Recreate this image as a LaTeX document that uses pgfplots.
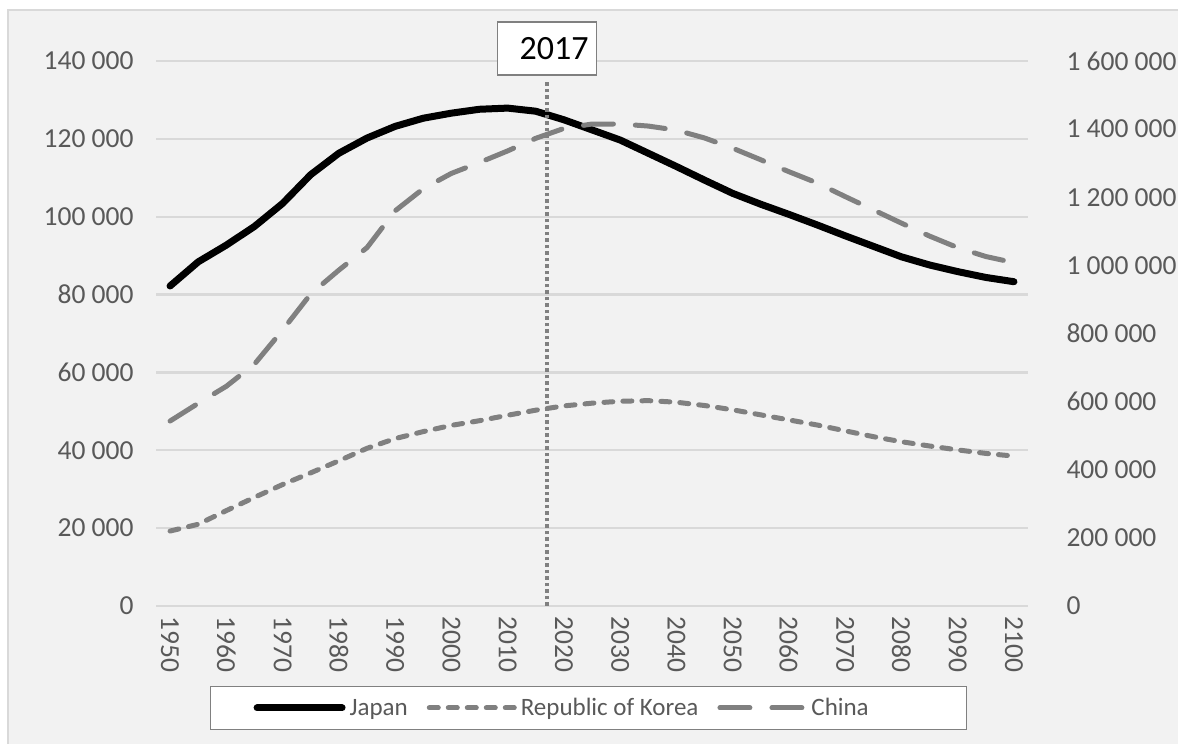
\documentclass[border=0pt]{standalone}
\usepackage{pgfplots}
\pgfplotsset{compat=1.18}
\usepackage{fontspec}
\setmainfont{Carlito}
\definecolor{bg}{HTML}{F2F2F2}
\definecolor{gridc}{HTML}{D9D9D9}
\definecolor{lab}{HTML}{595959}
\definecolor{ser}{HTML}{808080}
\begin{document}
\begin{tikzpicture}
\path[use as bounding box] (0,0) rectangle (1178bp,744bp);
\fill[bg] (8bp,-5bp) rectangle (1190bp,734bp);
\draw[gridc, line width=2bp] (8bp,-5bp) -- (8bp,734bp) -- (1190bp,734bp);
\begin{axis}[
  at={(156bp,138bp)}, anchor=south west,
  scale only axis, width=872bp, height=545bp,
  xmin=1947.5, xmax=2102.5, ymin=0, ymax=140000,
  scaled y ticks=false, scaled x ticks=false,
  axis line style={draw=none}, tick style={draw=none},
  ymajorgrids, major grid style={gridc, line width=2.2bp},
  ytick={0,20000,40000,60000,80000,100000,120000,140000},
  yticklabels={0,20 000,40 000,60 000,80 000,100 000,120 000,140 000},
  xtick={1950,1960,1970,1980,1990,2000,2010,2020,2030,2040,2050,2060,2070,2080,2090,2100},
  xticklabels={1950,1960,1970,1980,1990,2000,2010,2020,2030,2040,2050,2060,2070,2080,2090,2100},
  tick label style={font=\fontsize{27.5bp}{32bp}\selectfont, text=lab},
  yticklabel style={xshift=-19bp},
  xticklabel style={yshift=-7bp, rotate=-90, anchor=west},
  legend columns=3,
  legend style={at={(0.496,-0.187)}, anchor=center, draw=ser, line width=1.3bp, fill=white,
    font=\fontsize{25bp}{29bp}\selectfont, text=lab, inner xsep=43bp, inner ysep=10bp,
    nodes={inner xsep=0bp},
    /tikz/every odd column/.append style={column sep=4bp},
    /tikz/every even column/.append style={column sep=19bp}},
  legend image code/.code={\draw[#1] (0bp,0bp) -- (85bp,0bp);},
]
\addplot[black, line width=7bp, line join=round, line cap=round] coordinates {
(1950,82200) (1955,88400) (1960,92700) (1965,97500) (1970,103400) (1975,110800) (1980,116300) (1985,120200) (1990,123200) (1995,125300) (2000,126600) (2005,127600) (2010,127900) (2015,127100) (2020,124900) (2025,122300) (2030,119700) (2035,116300) (2040,112900) (2045,109400) (2050,106000) (2055,103200) (2060,100600) (2065,97900) (2070,95100) (2075,92400) (2080,89700) (2085,87600) (2090,85900) (2095,84400) (2100,83300)};
\addlegendentry{Japan}
\addplot[ser, line width=5bp, line join=round, line cap=round, dash pattern=on 9bp off 10bp] coordinates {
(1950,19250) (1955,21000) (1960,24500) (1965,27900) (1970,31200) (1975,34200) (1980,37300) (1985,40500) (1990,43000) (1995,44800) (2000,46400) (2005,47600) (2010,49000) (2015,50300) (2020,51400) (2025,52100) (2030,52600) (2035,52750) (2040,52350) (2045,51500) (2050,50400) (2055,49100) (2060,47800) (2065,46500) (2070,45000) (2075,43500) (2080,42200) (2085,41100) (2090,40100) (2095,39200) (2100,38500)};
\addlegendentry{Republic of Korea}
\addlegendimage{ser, line width=5bp, line cap=round, dash pattern=on 30bp off 22bp}
\addlegendentry{\makebox[112bp][l]{China}}
\end{axis}
\begin{axis}[
  at={(156bp,138bp)}, anchor=south west,
  scale only axis, width=872bp, height=545bp,
  xmin=1947.5, xmax=2102.5, ymin=0, ymax=1600000,
  scaled y ticks=false,
  axis x line=none, axis y line*=right,
  y axis line style={draw=none}, tick style={draw=none},
  ytick={0,200000,400000,600000,800000,1000000,1200000,1400000,1600000},
  yticklabels={0,200 000,400 000,600 000,800 000,1 000 000,1 200 000,1 400 000,1 600 000},
  tick label style={font=\fontsize{27.5bp}{32bp}\selectfont, text=lab},
  yticklabel style={anchor=west, xshift=35bp},
  clip=false,
]
\addplot[ser, line width=5bp, line join=round, line cap=round, dash pattern=on 30bp off 22bp] coordinates {
(1950,543000) (1955,595000) (1960,645000) (1965,710000) (1970,810000) (1975,916000) (1980,986000) (1985,1052000) (1990,1160000) (1995,1225000) (2000,1270000) (2005,1302000) (2010,1336000) (2015,1373000) (2020,1402000) (2025,1415000) (2030,1415000) (2035,1409000) (2040,1397000) (2045,1374000) (2050,1344000) (2055,1310000) (2060,1275000) (2065,1242000) (2070,1202000) (2075,1163000) (2080,1124000) (2085,1086000) (2090,1052000) (2095,1026000) (2100,1008000)};
\addplot[ser, line width=4bp, dash pattern=on 3.5bp off 3bp] coordinates {(2017,0) (2017,1544000)};
\node[draw=ser, line width=1.3bp, fill=white, minimum height=53bp, text width=83bp, align=right, inner xsep=8bp,
  font=\fontsize{34bp}{40bp}\selectfont, text=black] at (axis cs:2017,1636700) {2017};
\end{axis}
\end{tikzpicture}
\end{document}
